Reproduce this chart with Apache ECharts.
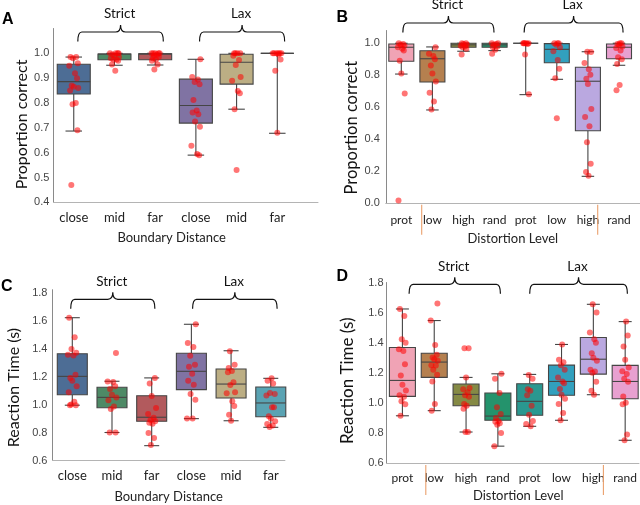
<!DOCTYPE html>
<html><head><meta charset="utf-8">
<script src="https://cdn.jsdelivr.net/npm/echarts@6/dist/echarts.min.js"></script>
<style>html,body{margin:0;padding:0;background:#fff}#c{width:640px;height:505px}</style>
</head><body><div id="c"></div>
<script>
// ---------- DATA ----------
const groupNames = ['Strict', 'Lax'];

// Panel A: proportion correct by boundary distance
const catsA = ['close', 'mid', 'far', 'close', 'mid', 'far'];
const boxesA = [ // [lowWhisker, Q1, median, Q3, highWhisker]
  [0.687, 0.836, 0.886, 0.956, 0.985],
  [0.952, 0.974, 0.997, 0.997, 1.0],
  [0.953, 0.974, 0.998, 0.998, 1.0],
  [0.59, 0.719, 0.79, 0.896, 0.976],
  [0.775, 0.876, 0.964, 0.996, 1.0],
  [0.678, 1.0, 1.0, 1.0, 1.0]
];
const pointsA = [
  [0.985, 0.985, 0.98, 0.96, 0.95, 0.92, 0.90, 0.87, 0.865, 0.86, 0.85, 0.80, 0.795, 0.69, 0.47],
  [1.0, 1.0, 1.0, 1.0, 0.995, 0.99, 0.985, 0.98, 0.975, 0.975, 0.97, 0.955, 0.93],
  [1.0, 1.0, 1.0, 1.0, 1.0, 0.995, 0.99, 0.985, 0.98, 0.975, 0.97, 0.955, 0.935],
  [0.976, 0.905, 0.895, 0.885, 0.875, 0.812, 0.77, 0.762, 0.755, 0.725, 0.704, 0.628, 0.595, 0.59],
  [1.0, 1.0, 1.0, 1.0, 0.99, 0.973, 0.953, 0.905, 0.89, 0.848, 0.839, 0.775, 0.53],
  [1.0, 1.0, 1.0, 1.0, 1.0, 1.0, 0.995, 0.975, 0.93, 0.68]
];

// Panel B: proportion correct by distortion level
const catsB = ['prot', 'low', 'high', 'rand', 'prot', 'low', 'high', 'rand'];
const boxesB = [
  [0.807, 0.887, 0.975, 0.995, 1.0],
  [0.582, 0.757, 0.903, 0.953, 0.977],
  [0.95, 0.975, 0.99, 1.0, 1.0],
  [0.954, 0.975, 0.99, 1.0, 1.0],
  [0.678, 1.0, 1.0, 1.0, 1.0],
  [0.774, 0.878, 0.962, 0.998, 1.0],
  [0.166, 0.452, 0.762, 0.85, 0.947],
  [0.862, 0.903, 0.975, 0.995, 1.0]
];
const pointsB = [
  [1.0, 0.995, 0.99, 0.985, 0.975, 0.965, 0.955, 0.89, 0.81, 0.685, 0.015],
  [0.975, 0.935, 0.92, 0.90, 0.86, 0.81, 0.76, 0.69, 0.635, 0.585],
  [1.0, 1.0, 0.995, 0.99, 0.985, 0.98, 0.975, 0.965, 0.93],
  [1.0, 1.0, 0.995, 0.99, 0.98, 0.975, 0.96, 0.935],
  [1.0, 1.0, 1.0, 1.0, 1.0, 0.995, 0.93, 0.68],
  [1.0, 1.0, 1.0, 0.99, 0.975, 0.95, 0.895, 0.84, 0.78, 0.53],
  [0.947, 0.945, 0.876, 0.837, 0.803, 0.778, 0.745, 0.588, 0.538, 0.48, 0.379, 0.245, 0.193, 0.17],
  [1.0, 1.0, 0.995, 0.99, 0.98, 0.97, 0.954, 0.912, 0.9, 0.87, 0.738, 0.705]
];

// Panel C: reaction time by boundary distance
const catsC = ['close', 'mid', 'far', 'close', 'mid', 'far'];
const boxesC = [
  [0.995, 1.07, 1.201, 1.363, 1.62],
  [0.80, 0.977, 1.051, 1.123, 1.166],
  [0.706, 0.88, 0.909, 1.063, 1.19],
  [0.899, 1.106, 1.237, 1.366, 1.573],
  [0.884, 1.046, 1.146, 1.254, 1.384],
  [0.837, 0.913, 1.011, 1.125, 1.187]
];
const pointsC = [
  [1.62, 1.48, 1.396, 1.37, 1.355, 1.35, 1.213, 1.19, 1.17, 1.13, 1.087, 1.02, 1.0, 0.995, 0.995],
  [1.368, 1.165, 1.16, 1.13, 1.11, 1.07, 1.05, 1.03, 0.985, 0.968, 0.80, 0.80],
  [1.19, 1.15, 1.06, 0.975, 0.932, 0.905, 0.89, 0.88, 0.87, 0.863, 0.796, 0.76, 0.71],
  [1.573, 1.44, 1.41, 1.349, 1.284, 1.27, 1.22, 1.17, 1.141, 1.075, 1.034, 0.90, 0.90],
  [1.38, 1.284, 1.26, 1.24, 1.23, 1.159, 1.14, 1.087, 1.08, 1.023, 0.99, 0.927, 0.884],
  [1.187, 1.17, 1.15, 1.082, 1.075, 1.065, 0.98, 0.98, 0.916, 0.90, 0.88, 0.86, 0.85, 0.84]
];

// Panel D: reaction time by distortion level
const catsD = ['prot', 'low', 'high', 'rand', 'prot', 'low', 'high', 'rand'];
const boxesD = [
  [0.914, 1.043, 1.149, 1.368, 1.624],
  [0.948, 1.169, 1.271, 1.33, 1.547],
  [0.806, 0.981, 1.056, 1.125, 1.169],
  [0.712, 0.884, 0.912, 1.065, 1.193],
  [0.844, 0.917, 1.01, 1.127, 1.189],
  [0.884, 1.05, 1.142, 1.251, 1.388],
  [1.054, 1.191, 1.29, 1.434, 1.655],
  [0.751, 1.027, 1.142, 1.249, 1.54]
];
const pointsD = [
  [1.624, 1.578, 1.422, 1.40, 1.357, 1.345, 1.257, 1.182, 1.12, 1.082, 1.05, 1.04, 1.01, 0.99, 0.914],
  [1.66, 1.547, 1.385, 1.32, 1.302, 1.29, 1.28, 1.25, 1.248, 1.22, 1.186, 1.142, 0.992, 0.948],
  [1.363, 1.363, 1.169, 1.098, 1.09, 1.07, 1.05, 1.04, 0.992, 0.98, 0.96, 0.806, 0.806],
  [1.193, 1.16, 1.065, 0.97, 0.926, 0.90, 0.88, 0.875, 0.865, 0.855, 0.80, 0.712],
  [1.185, 1.16, 1.09, 1.08, 1.05, 0.98, 0.92, 0.88, 0.86, 0.845],
  [1.388, 1.286, 1.27, 1.25, 1.22, 1.169, 1.142, 1.13, 1.092, 1.054, 1.027, 0.992, 0.932, 0.884],
  [1.655, 1.60, 1.468, 1.423, 1.40, 1.33, 1.30, 1.28, 1.22, 1.209, 1.20, 1.14, 1.08, 1.054],
  [1.54, 1.447, 1.375, 1.286, 1.235, 1.21, 1.192, 1.16, 1.14, 1.042, 1.0, 0.99, 0.79, 0.751]
];

// ---------- STYLE / LAYOUT ----------
const colorsAC = ['#4d6d95', '#4e8a66', '#b25a5d', '#8073a3', '#bcae84', '#5aa3b3'];
const colorsBD = ['#f0a3b5', '#b5804f', '#858a45', '#24936c', '#2a9890', '#32a0be', '#baa8e0', '#e8a0d0'];
const JIT = [-0.08, 0.06, -0.02, 0.1, -0.11, 0.03, 0.08, -0.05, 0.0, 0.11, -0.09, 0.05, -0.03, 0.09, -0.06, 0.02];

const panels = [
  { letter: 'A', lp: [8, 21], grid: { left: 53.4, top: 28.5, width: 264.6, height: 173.8 },
    xMax: 6.0, y: [0.4, 1.1, 0.1], hideMax: true, cats: catsA, boxes: boxesA, points: pointsA, colors: colorsAC,
    boxW: 33, catFont: 13, catMargin: 9, yLabMargin: 4,
    xName: 'Boundary Distance', xNameGap: 29.5, xNamePad: [0, 28, 0, 0],
    yName: 'Proportion correct', yNameSize: 16, yNameGap: 23.4, yNamePad: [0, 18, 0, 0],
    brackets: [[0.1, 2.2, 1.086], [3.09, 5.18, 1.086]], orange: [] },
  { letter: 'B', lp: [342.5, 19], grid: { left: 385.75, top: 30.5, width: 254.25, height: 172.3 },
    xMax: 7.675, y: [0, 1.08, 0.2], hideMax: true, cats: catsB, boxes: boxesB, points: pointsB, colors: colorsBD,
    boxW: 25, catFont: 12, catMargin: 11, yLabMargin: 6,
    xName: 'Distortion Level', xNameGap: 29.7, xNamePad: [0, 0, 0, 0],
    yName: 'Proportion correct', yNameSize: 16.5, yNameGap: 22.7, yNamePad: [0, 22, 0, 0],
    brackets: [[0.05, 2.98, 1.127], [3.95, 7.13, 1.127]], orange: [0.656, 6.315] },
  { letter: 'C', lp: [7, 287.5], grid: { left: 52.45, top: 289.7, width: 232.5, height: 170.8 },
    xMax: 5.357, y: [0.6, 1.82, 0.2], hideMax: true, cats: catsC, boxes: boxesC, points: pointsC, colors: colorsAC,
    boxW: 30, catFont: 13, catMargin: 9, yLabMargin: 5,
    xName: 'Boundary Distance', xNameGap: 30, xNamePad: [0, 0, 0, 0],
    yName: 'Reaction Time (s)', yNameSize: 16, yNameGap: 30.5, yNamePad: [0, 25, 0, 0],
    brackets: [[-0.04, 2.08, 1.751], [3.03, 5.16, 1.751]], orange: [] },
  { letter: 'D', lp: [342.5, 277.5], grid: { left: 386.5, top: 282.5, width: 253.5, height: 180.5 },
    xMax: 7.434, y: [0.6, 1.8, 0.2], hideMax: false, cats: catsD, boxes: boxesD, points: pointsD, colors: colorsBD,
    boxW: 26, catFont: 12, catMargin: 8.7, yLabMargin: 3,
    xName: 'Distortion Level', xNameGap: 26.5, xNamePad: [0, 0, 0, 11],
    yName: 'Reaction Time (s)', yNameSize: 17, yNameGap: 30.2, yNamePad: [0, 16, 0, 0],
    brackets: [[0.21, 3.08, 1.788], [4.0, 7.07, 1.788]], orange: [0.735, 6.316] }
];

function boxRenderer(boxW) {
  return function (params, api) {
    const x = api.value(0);
    const lo = api.coord([x, api.value(1)]), q1 = api.coord([x, api.value(2)]),
      md = api.coord([x, api.value(3)]), q3 = api.coord([x, api.value(4)]),
      hi = api.coord([x, api.value(5)]);
    const cx = q1[0], hw = boxW / 2, cw = boxW / 4;
    const stroke = '#454545';
    const ls = { stroke: stroke, lineWidth: 1.1 };
    return { type: 'group', children: [
      { type: 'line', shape: { x1: cx, y1: hi[1], x2: cx, y2: q3[1] }, style: ls },
      { type: 'line', shape: { x1: cx, y1: q1[1], x2: cx, y2: lo[1] }, style: ls },
      { type: 'line', shape: { x1: cx - cw, y1: hi[1], x2: cx + cw, y2: hi[1] }, style: ls },
      { type: 'line', shape: { x1: cx - cw, y1: lo[1], x2: cx + cw, y2: lo[1] }, style: ls },
      { type: 'rect', shape: { x: cx - hw, y: q3[1], width: boxW, height: q1[1] - q3[1] },
        style: { fill: api.visual('color'), stroke: stroke, lineWidth: 1.1 } },
      { type: 'line', shape: { x1: cx - hw, y1: md[1], x2: cx + hw, y2: md[1] }, style: ls }
    ] };
  };
}

function bracketRenderer(params, api) {
  const yv = api.value(2);
  const p1 = api.coord([api.value(0), yv]), p2 = api.coord([api.value(1), yv]);
  const y = p1[1], a = p1[0], b = p2[0], xm = (a + b) / 2;
  const d = 'M' + a + ',' + (y + 9.5) + ' Q' + a + ',' + y + ' ' + (a + 4) + ',' + y +
    ' L' + (xm - 5) + ',' + y + ' Q' + xm + ',' + y + ' ' + xm + ',' + (y - 7) +
    ' Q' + xm + ',' + y + ' ' + (xm + 5) + ',' + y + ' L' + (b - 4) + ',' + y +
    ' Q' + b + ',' + y + ' ' + b + ',' + (y + 9.5);
  return { type: 'group', children: [
    { type: 'path', shape: { pathData: d }, style: { fill: 'none', stroke: '#111', lineWidth: 1.2 } },
    { type: 'text', style: { text: groupNames[params.dataIndex], x: xm - 1, y: y - 18,
      align: 'center', verticalAlign: 'middle', font: '13.5px Lato', fill: '#111' } }
  ] };
}

function orangeRenderer(params, api) {
  const p = api.coord([api.value(0), api.value(1)]);
  return { type: 'line', shape: { x1: p[0], y1: p[1] + 2, x2: p[0], y2: p[1] + 32 },
    style: { stroke: '#eaa06c', lineWidth: 1.1 } };
}

const option = { animation: false, grid: [], xAxis: [], yAxis: [], series: [], graphic: [] };

panels.forEach(function (P, gi) {
  option.grid.push(Object.assign({ containLabel: false }, P.grid));
  const idx = P.cats.map(function (_, i) { return i; });
  option.xAxis.push({
    type: 'value', gridIndex: gi, min: -0.5, max: P.xMax,
    axisLine: { show: true, onZero: false, lineStyle: { color: '#b4b4b4', width: 1 } },
    axisTick: { show: false }, splitLine: { show: false },
    axisLabel: { customValues: idx, formatter: function (v) { return P.cats[Math.round(v)]; },
      fontFamily: 'Lato', fontSize: P.catFont, color: '#222', margin: P.catMargin },
    name: P.xName, nameLocation: 'middle', nameGap: P.xNameGap,
    nameTextStyle: { fontFamily: 'Lato', fontSize: 13, color: '#222', padding: P.xNamePad }
  });
  option.yAxis.push({
    type: 'value', gridIndex: gi, min: P.y[0], max: P.y[1], interval: P.y[2],
    axisLine: { show: true, onZero: false, lineStyle: { color: '#8a8a8a', width: 1 } },
    axisTick: { show: false }, splitLine: { show: false },
    axisLabel: { showMaxLabel: !P.hideMax, formatter: function (v) { return v.toFixed(1); },
      fontFamily: 'Liberation Sans', fontSize: 11, color: '#444', margin: P.yLabMargin },
    name: P.yName, nameLocation: 'middle', nameGap: P.yNameGap,
    nameTextStyle: { fontFamily: 'Lato', fontSize: P.yNameSize, color: '#111', padding: P.yNamePad }
  });
  option.series.push({
    type: 'custom', xAxisIndex: gi, yAxisIndex: gi, renderItem: boxRenderer(P.boxW),
    encode: { x: 0, y: [1, 2, 3, 4, 5] }, z: 2,
    data: P.boxes.map(function (b, i) { return { value: [i].concat(b), itemStyle: { color: P.colors[i] } }; })
  });
  const pts = [];
  P.points.forEach(function (arr, i) {
    arr.forEach(function (v, k) { pts.push([i + JIT[(k + i * 3) % JIT.length], v]); });
  });
  option.series.push({
    type: 'scatter', xAxisIndex: gi, yAxisIndex: gi, data: pts, symbol: 'circle', symbolSize: 6,
    itemStyle: { color: 'rgba(255,0,0,0.68)' }, z: 3, silent: true
  });
  option.series.push({
    type: 'custom', xAxisIndex: gi, yAxisIndex: gi, renderItem: bracketRenderer, clip: false,
    encode: { x: [0, 1], y: 2 }, data: P.brackets, z: 4, silent: true
  });
  if (P.orange.length) {
    option.series.push({
      type: 'custom', xAxisIndex: gi, yAxisIndex: gi, renderItem: orangeRenderer, clip: false,
      encode: { x: 0, y: 1 }, data: P.orange.map(function (x) { return [x, P.y[0]]; }), z: 4, silent: true
    });
  }
  option.graphic.push({ type: 'text', left: P.lp[0] - 6, top: P.lp[1] - 9,
    style: { text: P.letter, font: 'bold 16px "Liberation Sans"', fill: '#000' } });
});

const chart = echarts.init(document.getElementById('c'), null, { renderer: 'canvas' });
chart.setOption(option);
</script>
</body></html>
